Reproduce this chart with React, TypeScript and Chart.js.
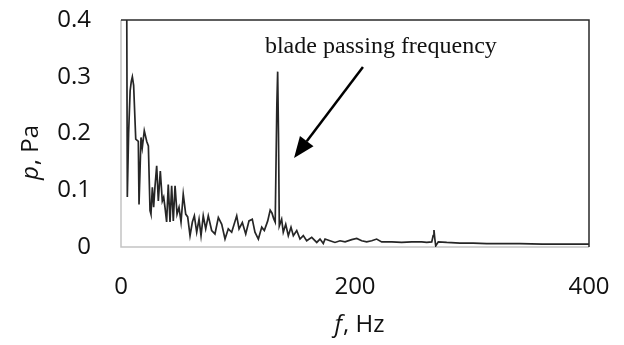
import React, { useEffect, useRef } from 'react';
import { Chart, registerables } from 'chart.js';

Chart.register(...registerables);

// Spectrum
const freqHz = [
  4.8, 5.4, 6.5, 7.8, 8.8, 9.7, 10.8, 12.6, 14.8, 15.4, 17.1, 18.2, 19.9, 22, 23.4, 24.8, 25.6,
  26.8, 27.9, 29, 30.5, 31.9, 33.6, 35.3, 36.5, 37.6, 39, 40.4, 41.9, 43.3, 44.7, 46.2, 47.9,
  49.6, 51.3, 53.2, 55.3, 57, 59, 61, 62.7, 64.7, 66.7, 68.4, 70.3, 72.4, 74.6, 77.5, 80.3,
  83.2, 86.1, 88.9, 91.7, 94.6, 98.9, 100.9, 103.7, 106.6, 109.4, 112.2, 114.5, 117.4, 120.3,
  122.5, 125.4, 127.5, 129, 130.5, 131.8, 133.2, 133.9, 134.6, 135.3, 137.3, 138.7, 140.8, 143,
  145.3, 147.3, 150.2, 153, 155.8, 158.7, 163, 167.3, 170.1, 172.9, 174.4, 178.6, 182.9, 187.2,
  191.5, 197.2, 201.5, 205.7, 210, 214.3, 218.5, 222.8, 231.4, 239.9, 248.5, 257, 261.3, 265.6,
  266.8, 267.5, 268.2, 269, 271.2, 278.4, 289.7, 301.1, 312.6, 326.8, 341, 360, 380, 400,
];
const pressurePa = [
  0.5, 0.088, 0.2, 0.275, 0.292, 0.3, 0.285, 0.19, 0.186, 0.075, 0.193, 0.175, 0.205, 0.186, 0.178, 0.064, 0.058,
  0.105, 0.07, 0.105, 0.143, 0.081, 0.134, 0.081, 0.088, 0.07, 0.044, 0.11, 0.044, 0.108, 0.046, 0.108, 0.058,
  0.07, 0.044, 0.093, 0.058, 0.053, 0.02, 0.044, 0.055, 0.026, 0.049, 0.02, 0.055, 0.032, 0.055, 0.029, 0.023,
  0.052, 0.04, 0.014, 0.032, 0.026, 0.055, 0.032, 0.043, 0.023, 0.046, 0.049, 0.026, 0.014, 0.035,
  0.029, 0.046, 0.065, 0.06, 0.05, 0.044, 0.25, 0.309, 0.2, 0.037, 0.049, 0.026, 0.04, 0.02,
  0.035, 0.02, 0.029, 0.014, 0.02, 0.011, 0.017, 0.008, 0.014, 0.006, 0.014, 0.011, 0.008, 0.011,
  0.009, 0.013, 0.015, 0.011, 0.009, 0.011, 0.014, 0.009, 0.009, 0.008, 0.009, 0.009, 0.008, 0.009,
  0.02, 0.03, 0.015, 0.002, 0.009, 0.008, 0.007, 0.007, 0.006, 0.006, 0.006, 0.005, 0.005, 0.005,
];

const xTickValues = [0, 200, 400];
const yTickValues = [0, 0.1, 0.2, 0.3, 0.4];

const annotationText = 'blade passing frequency';
const annotationAt = { f: 123, p: 0.342 };
const arrowFrom = { f: 206.8, p: 0.317 };
const arrowTo = { f: 147.9, p: 0.157 };

const xTitleParts = ['f', ', Hz'];
const yTitleParts = ['p', ', Pa'];

const SANS = '"Open Sans", sans-serif';

const decorPlugin = {
  id: 'decor',
  beforeDatasetsDraw(chart: any) {
    const { ctx, chartArea: a } = chart;
    ctx.save();
    ctx.strokeStyle = '#c4c4c4';
    ctx.lineWidth = 1.5;
    ctx.beginPath();
    ctx.moveTo(a.left, a.top);
    ctx.lineTo(a.left, a.bottom);
    ctx.lineTo(a.right, a.bottom);
    ctx.stroke();
    ctx.restore();
  },
  afterDatasetsDraw(chart: any) {
    const { ctx, chartArea: a } = chart;
    ctx.save();
    ctx.strokeStyle = '#2a2a2a';
    ctx.lineWidth = 1.5;
    ctx.beginPath();
    ctx.moveTo(a.left, a.top);
    ctx.lineTo(a.right, a.top);
    ctx.lineTo(a.right, a.bottom);
    ctx.stroke();
    ctx.restore();
  },
  afterDraw(chart: any) {
    const { ctx, chartArea: a, scales } = chart;
    const xs = scales.x;
    const ys = scales.y;
    ctx.save();
    // annotation text
    ctx.fillStyle = '#111';
    ctx.font = '24px "Liberation Serif", "Times New Roman", serif';
    ctx.textAlign = 'left';
    ctx.textBaseline = 'alphabetic';
    ctx.fillText(annotationText, xs.getPixelForValue(annotationAt.f), ys.getPixelForValue(annotationAt.p));

    // arrow
    const x1 = xs.getPixelForValue(arrowFrom.f);
    const y1 = ys.getPixelForValue(arrowFrom.p);
    const x2 = xs.getPixelForValue(arrowTo.f);
    const y2 = ys.getPixelForValue(arrowTo.p);
    const ang = Math.atan2(y2 - y1, x2 - x1);
    const headLen = 21;
    const headHalf = 8.5;
    const bx = x2 - headLen * Math.cos(ang);
    const by = y2 - headLen * Math.sin(ang);
    ctx.strokeStyle = '#000';
    ctx.fillStyle = '#000';
    ctx.lineWidth = 2.5;
    ctx.beginPath();
    ctx.moveTo(x1, y1);
    ctx.lineTo(bx, by);
    ctx.stroke();
    ctx.beginPath();
    ctx.moveTo(x2, y2);
    ctx.lineTo(bx + headHalf * Math.sin(ang), by - headHalf * Math.cos(ang));
    ctx.lineTo(bx - headHalf * Math.sin(ang), by + headHalf * Math.cos(ang));
    ctx.closePath();
    ctx.fill();

    // axis titles
    const italic = 'italic 24px ' + SANS;
    const normal = '24px ' + SANS;
    ctx.fillStyle = '#111';
    ctx.textBaseline = 'middle';
    ctx.textAlign = 'left';

    // x title
    ctx.font = italic;
    const xw1 = ctx.measureText(xTitleParts[0]).width;
    ctx.font = normal;
    const xw2 = ctx.measureText(xTitleParts[1]).width;
    const xcx = (a.left + a.right) / 2 + 4;
    const xcy = a.bottom + 78;
    const xs0 = xcx - (xw1 + xw2) / 2;
    ctx.font = italic;
    ctx.fillText(xTitleParts[0], xs0, xcy);
    ctx.font = normal;
    ctx.fillText(xTitleParts[1], xs0 + xw1 + 1, xcy);

    // y title (rotated)
    ctx.save();
    ctx.translate(a.left - 90, a.top + 133);
    ctx.rotate(-Math.PI / 2);
    ctx.font = italic;
    const yw1 = ctx.measureText(yTitleParts[0]).width;
    ctx.font = normal;
    const yw2 = ctx.measureText(yTitleParts[1]).width;
    const ys0 = -(yw1 + yw2) / 2;
    ctx.font = italic;
    ctx.fillText(yTitleParts[0], ys0, 0);
    ctx.font = normal;
    ctx.fillText(yTitleParts[1], ys0 + yw1 + 1, 0);
    ctx.restore();

    ctx.restore();
  },
};

const zeroPad = (s: any) => {
  s.paddingTop = 0;
  s.paddingBottom = 0;
  s.paddingLeft = 0;
  s.paddingRight = 0;
};

export default function App() {
  const canvasRef = useRef<HTMLCanvasElement | null>(null);

  useEffect(() => {
    document.body.style.margin = '0';
    const canvas = canvasRef.current;
    if (!canvas) return;
    const points = freqHz.map((f, i) => ({ x: f, y: pressurePa[i] }));
    const chart = new Chart(canvas, {
      type: 'scatter',
      data: {
        datasets: [
          {
            data: points,
            showLine: true,
            borderColor: '#262626',
            borderWidth: 1.7,
            pointRadius: 0,
            tension: 0,
            fill: false,
          },
        ],
      },
      options: {
        animation: false,
        responsive: true,
        maintainAspectRatio: false,
        layout: { padding: { left: 0, right: 35, top: 20, bottom: 0 } },
        plugins: { legend: { display: false }, tooltip: { enabled: false } },
        scales: {
          x: {
            type: 'linear',
            min: 0,
            max: 400,
            grid: { display: false, drawTicks: false },
            border: { display: false },
            afterBuildTicks: (s: any) => {
              s.ticks = xTickValues.map((v) => ({ value: v }));
            },
            afterFit: (s: any) => {
              s.height = 98;
              zeroPad(s);
            },
            ticks: {
              padding: 26,
              color: '#111',
              font: { family: SANS, size: 24 },
              maxRotation: 0,
            },
          },
          y: {
            type: 'linear',
            min: 0,
            max: 0.4,
            grid: { display: false, drawTicks: false },
            border: { display: false },
            afterBuildTicks: (s: any) => {
              s.ticks = yTickValues.map((v) => ({ value: v }));
            },
            afterFit: (s: any) => {
              s.width = 121;
              zeroPad(s);
            },
            ticks: {
              padding: 30,
              color: '#111',
              font: { family: SANS, size: 24 },
            },
          },
        },
      },
      plugins: [decorPlugin],
    });
    return () => chart.destroy();
  }, []);

  return (
    <div style={{ width: 624, height: 345, position: 'relative', background: '#fff' }}>
      <canvas ref={canvasRef} />
    </div>
  );
}
